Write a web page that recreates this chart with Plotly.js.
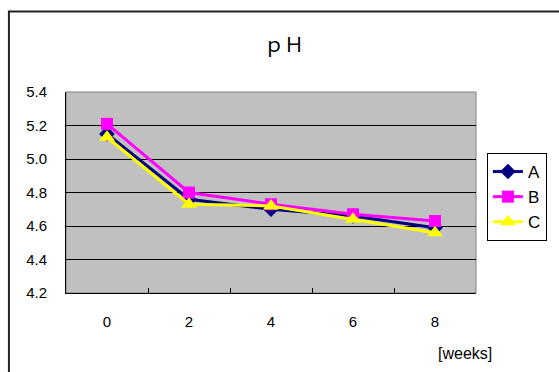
<!DOCTYPE html>
<html><head><meta charset="utf-8">
<script src="https://cdn.plot.ly/plotly-3.0.1.min.js"></script>
<style>html,body{margin:0;padding:0;background:#fff}#chart{width:559px;height:372px}</style>
</head><body><div id="chart"></div>
<script>
const weeks = ['0','2','4','6','8'];
const seriesA = [5.15, 4.76, 4.70, 4.66, 4.59];
const seriesB = [5.21, 4.80, 4.73, 4.67, 4.63];
const seriesC = [5.13, 4.73, 4.72, 4.64, 4.56];
const names = ['A','B','C'];
const yTicks = [4.2, 4.4, 4.6, 4.8, 5.0, 5.2, 5.4];

const W=559,H=372, L=66, R=80, T=92, B=79;
const pw=W-L-R, ph=H-T-B;
const px=x=>(x-L)/pw, py=y=>(H-B-y)/ph;

const traces = [
 {x:weeks,y:seriesA,name:names[0],legendgroup:'a',mode:'lines+markers',line:{color:'#000080',width:3},marker:{symbol:'diamond',size:12,color:'#000080'}},
 {x:weeks,y:seriesB,name:names[1],legendgroup:'b',mode:'lines+markers',line:{color:'#FF00FF',width:3},marker:{symbol:'square',size:12,color:'#FF00FF'}},
 {x:weeks,y:seriesC,name:names[2],legendgroup:'c',mode:'lines+markers',line:{color:'#FFFF00',width:3},marker:{symbol:'triangle-up',size:14,color:'#FFFF00'}}
];
const font = {family:'"Liberation Sans", Arial, sans-serif', color:'#000'};
const layout = {
 width:W,height:H,margin:{l:L,r:R,t:T,b:B,pad:0},
 paper_bgcolor:'#fff',plot_bgcolor:'#C0C0C0',
 font:Object.assign({size:15},font),
 showlegend:true,
 legend:{x:px(490),y:py(153),xanchor:'left',yanchor:'top',bgcolor:'#fff',bordercolor:'#000',borderwidth:1,
   font:Object.assign({size:17},font),traceorder:'grouped',tracegroupgap:0},
 xaxis:{type:'category',categoryarray:weeks,range:[-0.5,4.5],tickson:'boundaries',ticks:'inside',ticklen:5,tickcolor:'#000',
   showline:true,linecolor:'#000',linewidth:1,showgrid:false,zeroline:false,fixedrange:true,
   tickfont:Object.assign({size:15},font),ticklabelstandoff:15},
 yaxis:{range:[4.2,5.4],tickvals:yTicks,ticktext:yTicks.map(v=>v.toFixed(1)),ticks:'',showline:true,linecolor:'#000',linewidth:1,
   showgrid:true,gridcolor:'#000',gridwidth:1,zeroline:false,fixedrange:true,tickfont:Object.assign({size:15},font),ticklabelstandoff:15},
 shapes:[
  {type:'rect',xref:'x domain',yref:'y domain',x0:0,x1:1,y0:0,y1:1,line:{color:'#808080',width:1},layer:'below'},
  {type:'rect',xref:'paper',yref:'paper',x0:px(8.5),x1:px(600),y0:py(400),y1:py(11.5),line:{color:'#222',width:2},fillcolor:'rgba(0,0,0,0)'}
 ],
 annotations:[
  {text:'ｐＨ',xref:'paper',yref:'paper',x:px(286),y:py(43),xanchor:'center',yanchor:'middle',showarrow:false,
   font:{family:'"Noto Sans CJK JP", sans-serif',size:20,color:'#000'}},
  {text:'[weeks]',xref:'paper',yref:'paper',x:px(467.5),y:py(353),xanchor:'center',yanchor:'middle',showarrow:false,
   font:Object.assign({size:16},font)}
 ]
};
Plotly.newPlot('chart',traces,layout,{staticPlot:true});
</script></body></html>
